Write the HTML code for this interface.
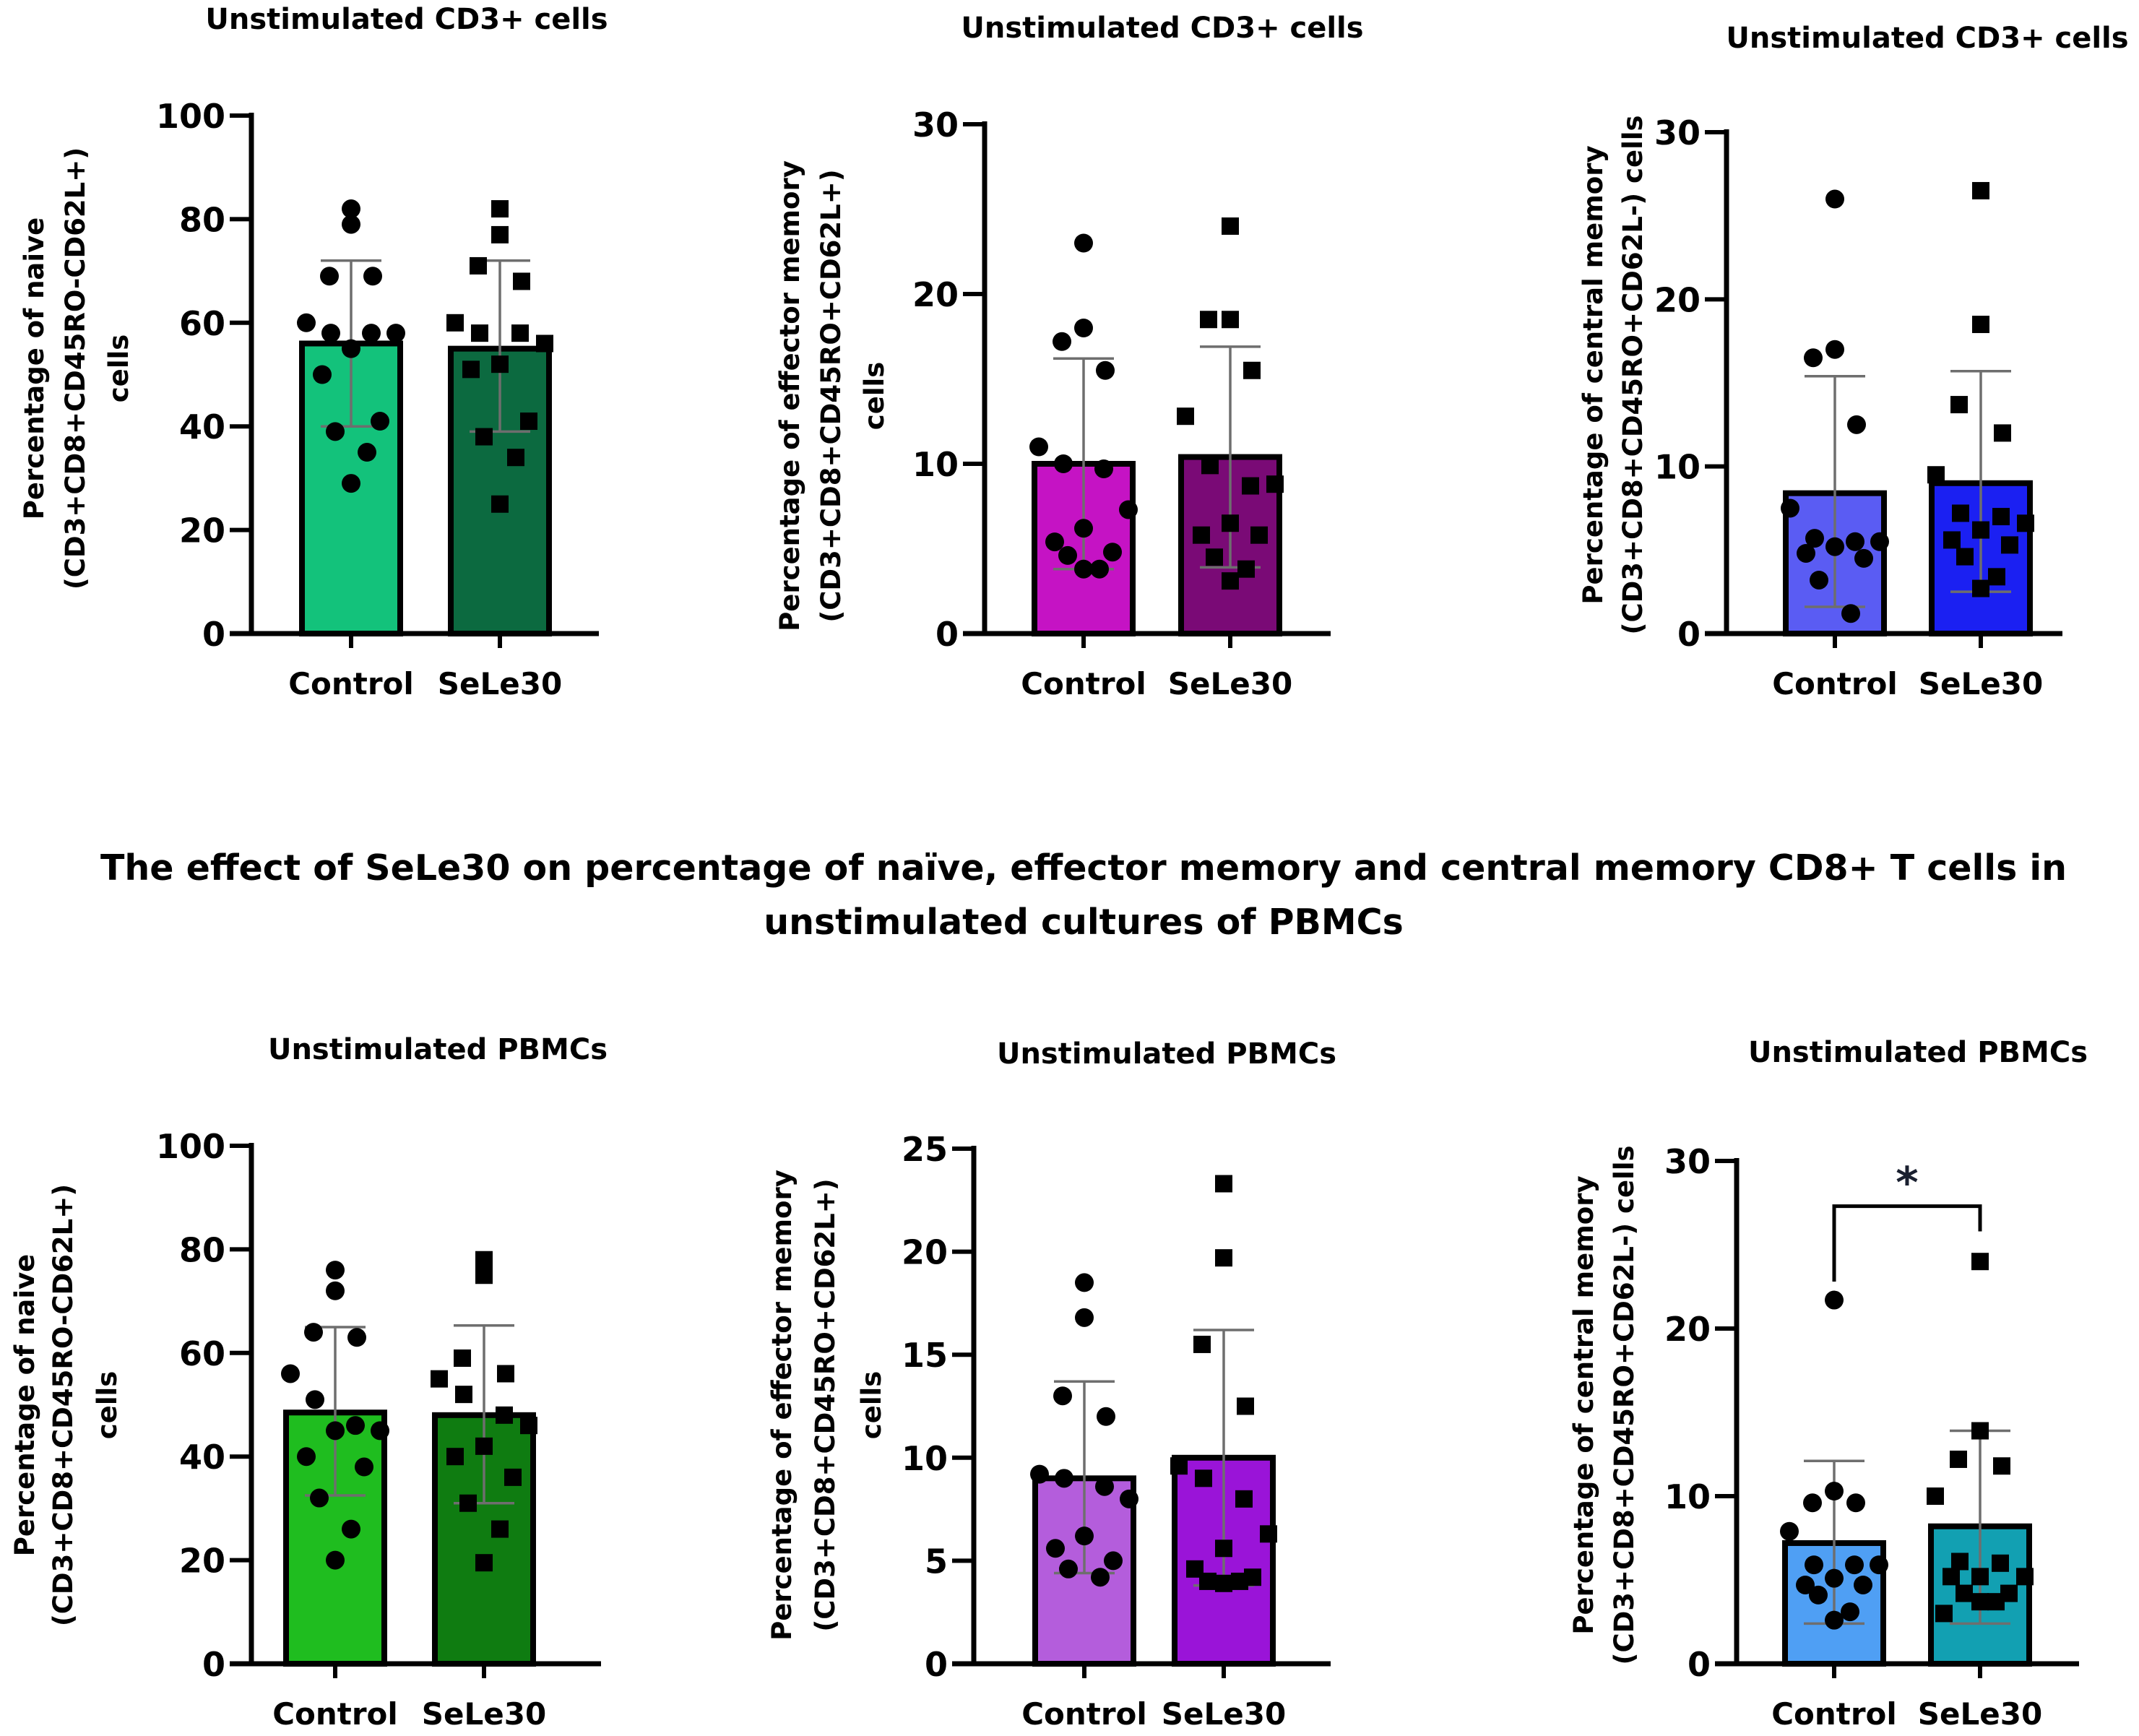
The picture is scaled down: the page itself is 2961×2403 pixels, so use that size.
<!DOCTYPE html>
<html><head><meta charset="utf-8"><style>
html,body{margin:0;padding:0;background:#fff;}
svg{display:block;font-family:"DejaVu Sans","Liberation Sans",sans-serif;font-weight:bold;}
</style></head><body>
<svg id="fig" width="2961" height="2403" viewBox="0 0 2961 2403">
<text x="1500" y="1218" font-size="49" text-anchor="middle">The effect of SeLe30 on percentage of naïve, effector memory and central memory CD8+ T cells in</text>
<text x="1500" y="1293" font-size="49" text-anchor="middle">unstimulated cultures of PBMCs</text>
</svg>
<script>
const categories = ["Control","SeLe30"];
// panel data
const p1Means=[56,55], p1Up=[72,72], p1Lo=[40,39];
const p1Ctrl=[82,79,69,69,60,58,58,58,55,50,41,39,35,29];
const p1Sele=[82,77,71,68,60,58,58,56,52,51,41,38,34,25];
const p2Means=[10,10.4], p2Up=[16.2,16.9], p2Lo=[3.8,3.9];
const p2Ctrl=[23,18,17.2,15.5,11,10,9.7,7.3,6.2,5.4,4.8,4.6,3.8,3.8];
const p2Sele=[24,18.5,18.5,15.5,12.8,9.9,8.7,8.8,6.5,5.8,5.8,4.5,3.8,3.1];
const p3Means=[8.4,9], p3Up=[15.4,15.7], p3Lo=[1.6,2.5];
const p3Ctrl=[26,17,16.5,12.5,7.5,5.7,5.5,5.5,5.2,4.8,4.5,3.2,1.2];
const p3Sele=[26.5,18.5,13.7,12,9.5,7.2,7,6.6,6.2,5.6,5.3,4.6,3.4,2.7];
const p4Means=[48.5,48], p4Up=[65,65.3], p4Lo=[32.5,31];
const p4Ctrl=[76,72,64,63,56,51,46,45,45,40,38,32,26,20];
const p4Sele=[78,75,59,56,55,52,48,46,42,40,36,31,26,19.5];
const p5Means=[9,10], p5Up=[13.7,16.2], p5Lo=[4.4,3.8];
const p5Ctrl=[18.5,16.8,13,12,9.2,9,8.6,8,6.2,5.6,5,4.6,4.2];
const p5Sele=[23.3,19.7,15.5,12.5,9.6,9,8,6.3,5.6,4.6,4.2,4,4,3.9];
const p6Means=[7.2,8.2], p6Up=[12.1,13.9], p6Lo=[2.4,2.4];
const p6Ctrl=[21.7,10.3,9.6,9.6,7.9,5.9,5.9,5.9,5.1,4.7,4.7,4.1,3.1,2.6];
const p6Sele=[24,13.9,12.2,11.8,10,6.1,6,5.2,5.2,5.2,4.2,4.2,3.7,3.7,3.0];
const p1Ticks=[0,20,40,60,80,100], p2Ticks=[0,10,20,30], p3Ticks=[0,10,20,30];
const p4Ticks=[0,20,40,60,80,100], p5Ticks=[0,5,10,15,20,25], p6Ticks=[0,10,20,30];

const NS="http://www.w3.org/2000/svg";
const svg=document.getElementById('fig');
function mk(tag,attrs,parent){const e=document.createElementNS(NS,tag);for(const k in attrs)e.setAttribute(k,attrs[k]);(parent||svg).appendChild(e);return e;}
const jit=[0,0,-30,30,-62,-28,28,62,0,-40,40,-22,22,0,-50,50];

const panels=[
 {name:'naive-cd3',title:'Unstimulated CD3+ cells',tx:563,ty:40,ax:348,top:160,y0:877,right:829,cx:[486,692],ticks:p1Ticks,means:p1Means,up:p1Up,lo:p1Lo,pts:[p1Ctrl,p1Sele],col:['#13c27b','#0c6a40'],yl:['Percentage of naive','(CD3+CD8+CD45RO-CD62L+)','cells'],ylx:[47,104,164],yly:510},
 {name:'effector-cd3',title:'Unstimulated CD3+ cells',tx:1609,ty:52,ax:1363,top:172,y0:877,right:1842,cx:[1500,1703],ticks:p2Ticks,means:p2Means,up:p2Up,lo:p2Lo,pts:[p2Ctrl,p2Sele],col:['#c513c4','#7a0a76'],yl:['Percentage of effector memory','(CD3+CD8+CD45RO+CD62L+)','cells'],ylx:[1093,1150,1210],yly:548},
 {name:'central-cd3',title:'Unstimulated CD3+ cells',tx:2668,ty:66,ax:2390,top:183,y0:877,right:2855,cx:[2540,2742],ticks:p3Ticks,means:p3Means,up:p3Up,lo:p3Lo,pts:[p3Ctrl,p3Sele],col:['#5a5cf3','#1b20f2'],yl:['Percentage of central memory','(CD3+CD8+CD45RO+CD62L-) cells'],ylx:[2205,2260],yly:519},
 {name:'naive-pbmc',title:'Unstimulated PBMCs',tx:606,ty:1466,ax:348,top:1586,y0:2303,right:832,cx:[464,670],ticks:p4Ticks,means:p4Means,up:p4Up,lo:p4Lo,pts:[p4Ctrl,p4Sele],col:['#1fbd1f','#0f7c11'],yl:['Percentage of naive','(CD3+CD8+CD45RO-CD62L+)','cells'],ylx:[34,87,148],yly:1945},
 {name:'effector-pbmc',title:'Unstimulated PBMCs',tx:1615,ty:1472,ax:1348,top:1590,y0:2303,right:1842,cx:[1501,1694],ticks:p5Ticks,means:p5Means,up:p5Up,lo:p5Lo,pts:[p5Ctrl,p5Sele],col:['#b45ddc','#9a14d8'],yl:['Percentage of effector memory','(CD3+CD8+CD45RO+CD62L+)','cells'],ylx:[1082,1142,1206],yly:1945},
 {name:'central-pbmc',title:'Unstimulated PBMCs',tx:2655,ty:1470,ax:2404,top:1607,y0:2303,right:2878,cx:[2539,2741],ticks:p6Ticks,means:p6Means,up:p6Up,lo:p6Lo,pts:[p6Ctrl,p6Sele],col:['#4f9ff4','#12a0b2'],yl:['Percentage of central memory','(CD3+CD8+CD45RO+CD62L-) cells'],ylx:[2192,2248],yly:1945,sig:true}
];

panels.forEach(p=>{
 const g=mk('g',{});
 
 
 const max=p.ticks[p.ticks.length-1];
 const y=v=>p.y0-(v/max)*(p.y0-p.top);
 const t=mk('text',{x:p.tx,y:p.ty,'font-size':40,'text-anchor':'middle'},g);t.textContent=p.title;
 
 
 p.yl.forEach((s,i)=>{const e=mk('text',{x:0,y:0,'font-size':37,'text-anchor':'middle',transform:`translate(${p.ylx[i]+13},${p.yly}) rotate(-90)`},g);e.textContent=s;
  
  });
 for(let i=0;i<2;i++){
  const b=mk('rect',{x:p.cx[i]-68,y:y(p.means[i]),width:136,height:p.y0-y(p.means[i]),fill:p.col[i],stroke:'#000','stroke-width':8},g);
  
  
  const eg=mk('g',{stroke:'#6e6e6e','stroke-width':3.5},g);
  
  
  mk('line',{x1:p.cx[i],x2:p.cx[i],y1:y(p.up[i]),y2:y(p.lo[i])},eg);
  mk('line',{x1:p.cx[i]-42,x2:p.cx[i]+42,y1:y(p.up[i]),y2:y(p.up[i])},eg);
  mk('line',{x1:p.cx[i]-42,x2:p.cx[i]+42,y1:y(p.lo[i]),y2:y(p.lo[i])},eg);
  p.pts[i].forEach((v,k)=>{
   const xx=p.cx[i]+jit[k%jit.length];
   let m;
   if(i===0) m=mk('circle',{cx:xx,cy:y(v),r:13,fill:'#000'},g);
   else m=mk('rect',{x:xx-12,y:y(v)-12,width:24,height:24,fill:'#000'},g);
   
   
  });
  const xt=mk('line',{x1:p.cx[i],x2:p.cx[i],y1:p.y0,y2:p.y0+20,stroke:'#000','stroke-width':6},g);
  
  
  const xl=mk('text',{x:p.cx[i],y:p.y0+84,'font-size':42,'text-anchor':'middle'},g);xl.textContent=categories[i];
  
  
 }
 const axis=mk('path',{d:`M${p.ax},${p.top-4} L${p.ax},${p.y0} M${p.ax-30},${p.y0} L${p.right},${p.y0}`,stroke:'#000','stroke-width':7,fill:'none'},g);
 
 
 p.ticks.forEach(v=>{
  const tk=mk('line',{x1:p.ax-30,x2:p.ax,y1:y(v),y2:y(v),stroke:'#000','stroke-width':6},g);
  
  
  const tl=mk('text',{x:p.ax-36,y:y(v)+17,'font-size':46,'text-anchor':'end'},g);tl.textContent=v;
  
  
 });
 if(p.sig){
  const br=mk('path',{d:`M${p.cx[0]},${y(22.8)} L${p.cx[0]},${y(27.3)} L${p.cx[1]},${y(27.3)} L${p.cx[1]},${y(25.8)}`,stroke:'#000','stroke-width':5,fill:'none'},g);
  
  
  const st=mk('text',{x:(p.cx[0]+p.cx[1])/2,y:y(27.3)-12,'font-size':60,'text-anchor':'middle',fill:'#1a2030'},g);st.textContent='*';
  
  
 }
});
</script>
</body></html>
